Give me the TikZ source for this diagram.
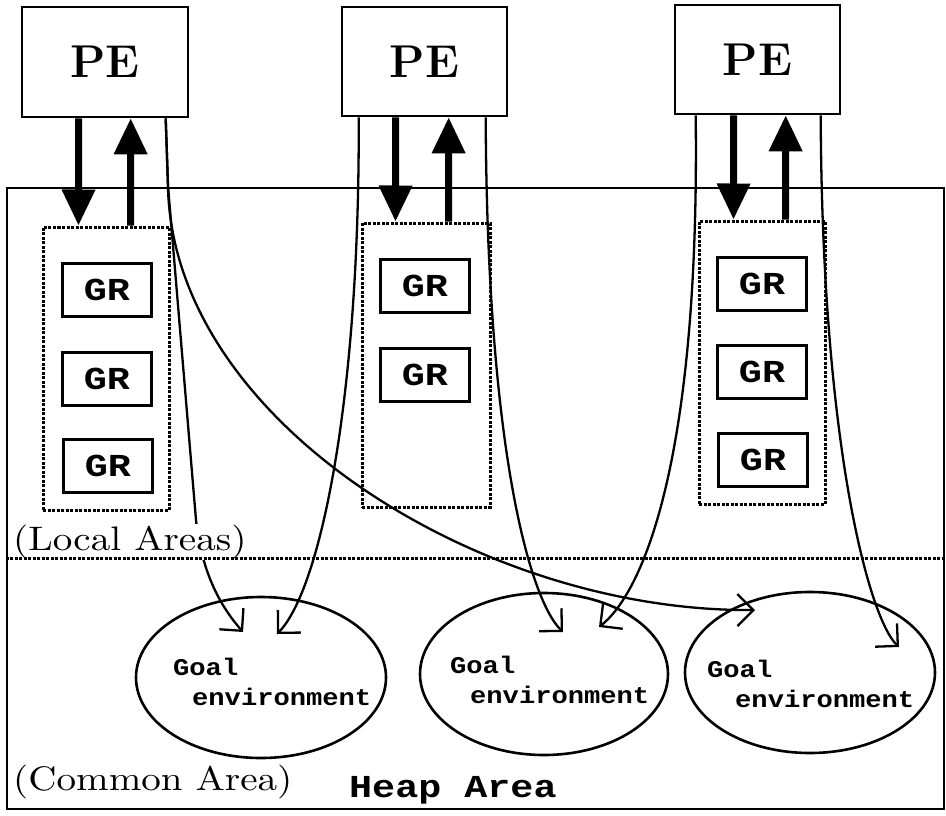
\documentclass[tikz,border=0pt]{standalone}
\usepackage{fontspec}
\usetikzlibrary{arrows.meta,shapes.geometric}
% wide serif for the area captions, wide typewriter for the boxes
\newfontfamily\lblfont{lmroman10-regular.otf}[FakeStretch=1.15]
\newfontfamily\courbold{Liberation Mono}[FakeStretch=1.2]
\newfontfamily\courgoal{Liberation Mono}[FakeStretch=1.13]

\begin{document}
\begin{tikzpicture}[x=1pt,y=-1pt,
  pebox/.style={draw, line width=2.6pt, minimum width=166pt, minimum height=110pt,
    inner sep=0pt, font=\fontsize{46}{46}\selectfont\bfseries},
  localarea/.style={draw, line width=3pt, dash pattern=on 3pt off 1.5pt, inner sep=0pt},
  grbox/.style={draw, line width=2.8pt, minimum width=89pt, minimum height=53pt,
    inner sep=0pt, font=\courbold\bfseries\fontsize{32}{32}\selectfont},
  goalenv/.style={ellipse, draw, line width=2.6pt, inner sep=0pt,
    minimum width=250pt, minimum height=161pt},
  goaltext/.style={anchor=base west, inner sep=0pt,
    font=\courgoal\bfseries\fontsize{24}{24}\selectfont},
  areatext/.style={anchor=base west, inner sep=1pt,
    font=\lblfont\fontsize{34}{34}\selectfont},
  bigarrow/.style={line width=7pt, -{Triangle[length=36pt,width=32pt]}},
  link/.style={line width=2.3pt, -{Straight Barb[length=16pt,width=32pt]}},
  divider/.style={line width=3pt, dash pattern=on 3pt off 1.5pt}
]
\useasboundingbox (0,0) rectangle (946,815);

% heap area frame
\node[draw, line width=2.8pt, minimum width=937pt, minimum height=621pt, inner sep=0pt]
  (heap) at (475.5,498.5) {};

% processing elements
\node[pebox] (pe1) at (105,62) {PE};
\node[pebox, minimum width=165pt, minimum height=109pt] (pe2) at (424.5,61.5) {PE};
\node[pebox, minimum width=165pt, minimum height=109pt] (pe3) at (757.5,59.5) {PE};

% local areas
\node[localarea, minimum width=126pt, minimum height=283pt] (la1) at (106,368.5) {};
\node[localarea, minimum width=128pt, minimum height=284pt] (la2) at (426,365) {};
\node[localarea, minimum width=126pt, minimum height=283pt] (la3) at (762,362.5) {};

% goal records
\node[grbox] (g11) at (107,290) {GR};
\node[grbox] (g12) at (107,379) {GR};
\node[grbox] (g13) at (108,466) {GR};
\node[grbox] (g21) at (425,286) {GR};
\node[grbox] (g22) at (425,375) {GR};
\node[grbox] (g31) at (762,284) {GR};
\node[grbox] (g32) at (762,372) {GR};
\node[grbox] (g33) at (763,460) {GR};

% goal environments in the common area
\node[goalenv] (ge1) at (261,677.5) {};
\node[goalenv, minimum width=248pt, minimum height=162pt] (ge2) at (544,674) {};
\node[goalenv] (ge3) at (810,672.5) {};
\node[goaltext] (ge1a) at (173,675) {Goal};
\node[goaltext] (ge1b) at (192,705) {environment};
\node[goaltext] (ge2a) at (450,673) {Goal};
\node[goaltext] (ge2b) at (470,703) {environment};
\node[goaltext] (ge3a) at (707,677) {Goal};
\node[goaltext] (ge3b) at (735,707) {environment};

% data flow between each PE and its local area
\draw[bigarrow] ([xshift=58pt]pe1.south west) -- ([xshift=37pt]la1.north west);
\draw[bigarrow] ([xshift=89pt]la1.north west) -- ([xshift=110pt]pe1.south west);
\draw[bigarrow] ([xshift=55pt]pe2.south west) -- ([xshift=35pt]la2.north west);
\draw[bigarrow] ([xshift=88pt]la2.north west) -- ([xshift=108pt]pe2.south west);
\draw[bigarrow] ([xshift=60pt]pe3.south west) -- ([xshift=36pt]la3.north west);
\draw[bigarrow] ([xshift=88pt]la3.north west) -- ([xshift=112pt]pe3.south west);

% references into the goal environments
\coordinate (t1) at (243,632);
\coordinate (t2) at (277,634);
\coordinate (t3) at (563,632);
\coordinate (t4) at (599,627);
\coordinate (t5) at (755,610);
\coordinate (t6) at (899,647);

\draw[link] ([xshift=145pt]pe1.south west) -- (168,186) -- (196,520)
  .. controls (202,575) and (222,608) .. (t1);
\draw[link] ([xshift=145pt]pe1.south west) -- (168,186)
  .. controls (172,420) and (480,612) .. (t5);
\draw[link] ([xshift=18pt]pe2.south west) .. controls (360,400) and (320,590) .. (t2);
\draw[link] ([xshift=145pt]pe2.south west) .. controls (487,450) and (530,600) .. (t3);
\draw[link] ([xshift=22pt]pe3.south west) .. controls (700,470) and (640,595) .. (t4);
\draw[link] ([xshift=147pt]pe3.south west) .. controls (822,450) and (870,620) .. (t6);

% captions
\node[areatext, fill=white] (local) at (12,550) {(Local Areas)};
\node[areatext] (common) at (12,790) {(Common Area)};
\node[anchor=base west, inner sep=0pt, font=\courbold\bfseries\fontsize{32}{32}\selectfont]
  (heaplbl) at (349,797) {Heap Area};

% boundary between local areas and the common area
\draw[divider] ([yshift=-372pt]heap.north west) -- ([yshift=-372pt]heap.north east);
\end{tikzpicture}
\end{document}
